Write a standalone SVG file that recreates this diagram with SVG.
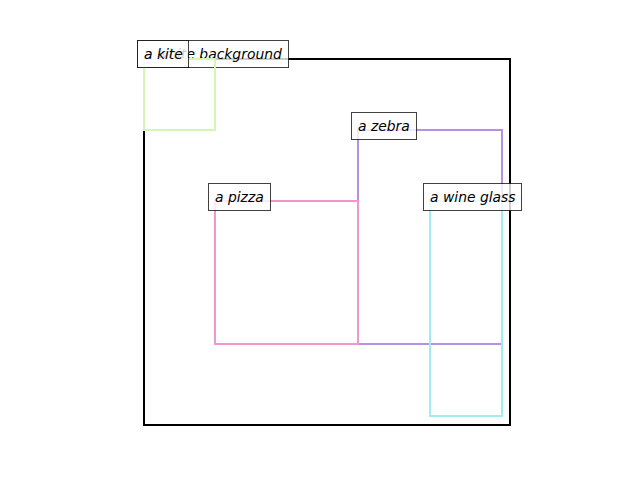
<svg xmlns="http://www.w3.org/2000/svg" width="640" height="480" viewBox="0 0 640 480">
<style>
.box{fill:none;stroke-width:2}
.lbl rect{fill:#fff;fill-opacity:0.8;stroke:#000;stroke-opacity:0.75;stroke-width:1}
.lbl text{font-family:"DejaVu Sans",sans-serif;font-style:italic;font-size:13.9px;fill:#000}
</style>
<rect width="640" height="480" fill="#fff"/>
<g id="background">
<rect class="box" x="144" y="59" width="366" height="366" stroke="#000"/>
</g>
<g id="background-label" class="lbl">
<rect x="137.5" y="40.5" width="151" height="27"/>
<text x="144" y="59">a white background</text>
</g>
<g id="kite">
<rect class="box" x="144" y="59" width="71" height="71" stroke="#d5f5b5"/>
</g>
<g id="kite-label" class="lbl">
<rect x="137.5" y="40.5" width="51" height="27"/>
<text x="144" y="59">a kite</text>
</g>
<g id="zebra">
<rect class="box" x="358" y="130" width="144" height="214" stroke="#b690e8"/>
</g>
<g id="zebra-label" class="lbl">
<rect x="351.5" y="112.5" width="65" height="27"/>
<text x="358" y="131">a zebra</text>
</g>
<g id="pizza">
<rect class="box" x="215" y="201" width="143" height="143" stroke="#f496ce"/>
</g>
<g id="pizza-label" class="lbl">
<rect x="208.5" y="183.5" width="62" height="27"/>
<text x="215" y="202">a pizza</text>
</g>
<g id="wine-glass">
<rect class="box" x="430" y="201" width="72" height="215" stroke="#a0ecf2"/>
</g>
<g id="wine-glass-label" class="lbl">
<rect x="423.5" y="183.5" width="98" height="27"/>
<text x="430" y="202">a wine glass</text>
</g>
<g id="connectors"/>
</svg>
